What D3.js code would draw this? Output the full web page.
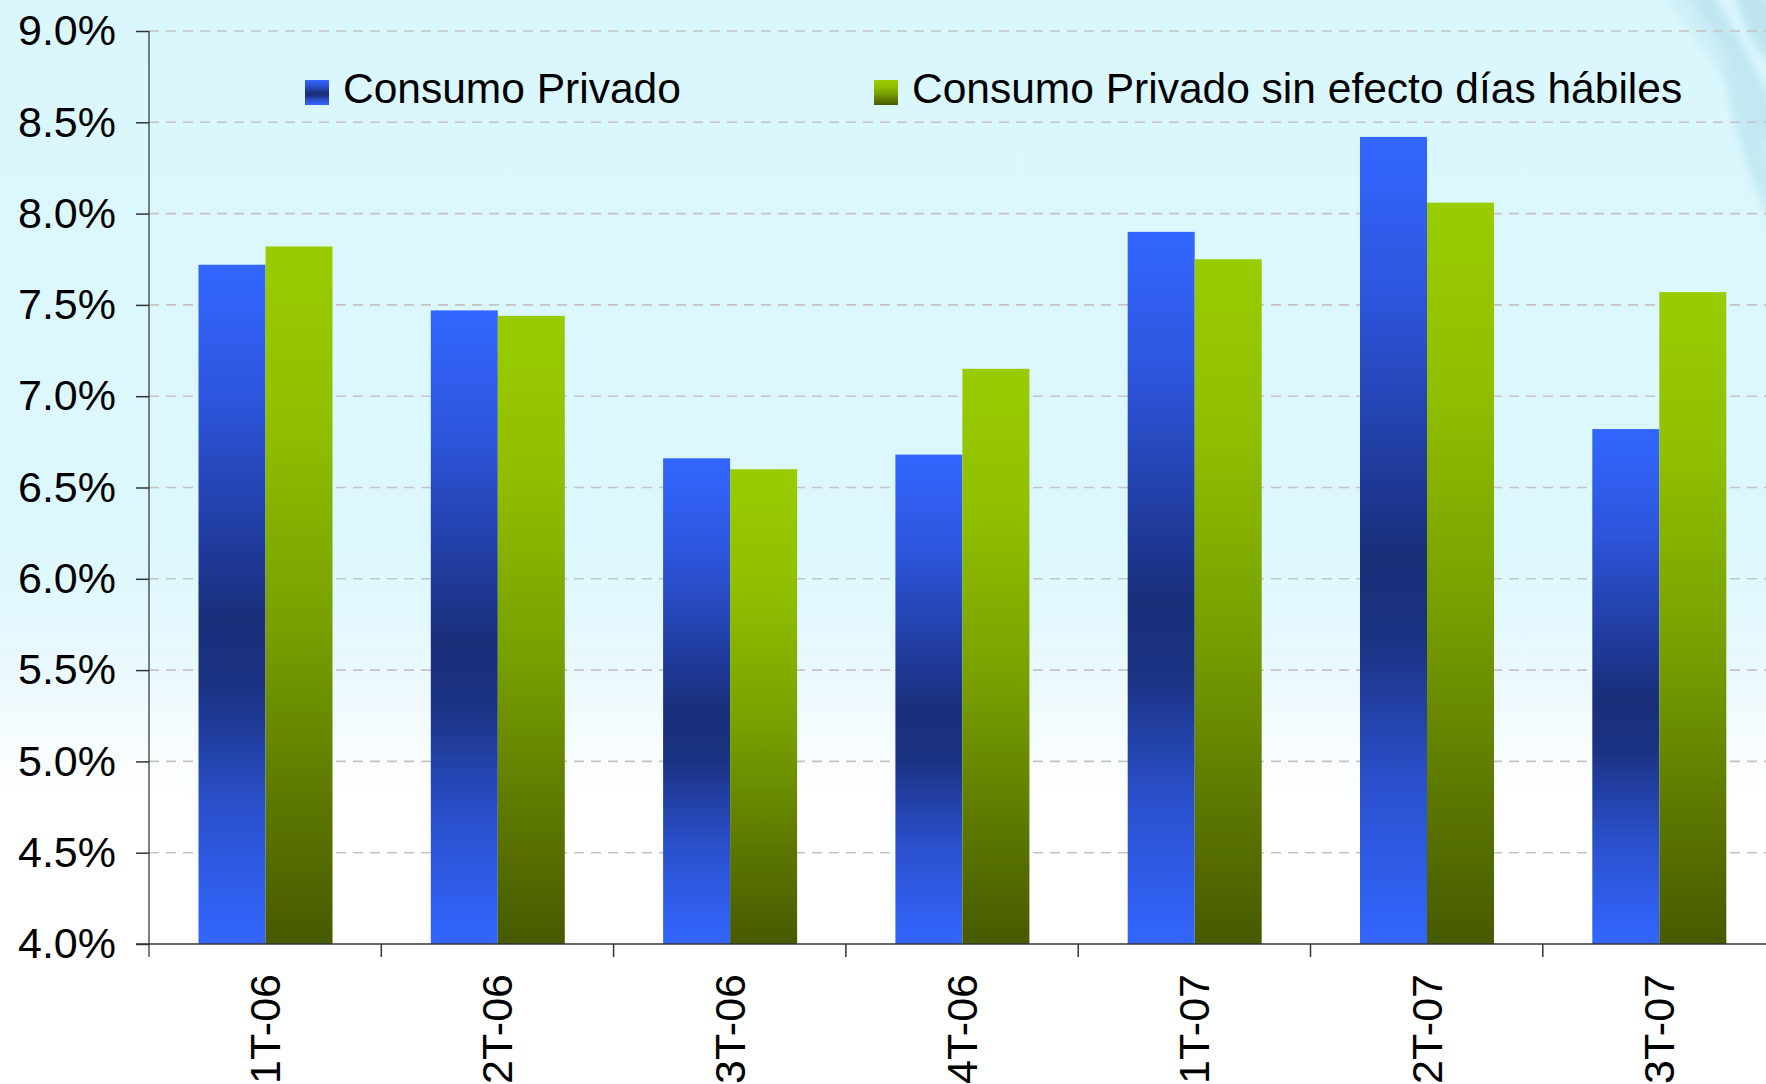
<!DOCTYPE html>
<html>
<head>
<meta charset="utf-8">
<script src="https://cdn.jsdelivr.net/npm/d3@7/dist/d3.min.js"></script>
<style>
  html, body { margin: 0; padding: 0; background: #ffffff; }
  svg { display: block; font-family: "Liberation Sans", Arial, sans-serif; }
</style>
</head>
<body>
<svg id="chart" width="1766" height="1084"></svg>
<script>
// ---- data ----
const categories = ["1T-06", "2T-06", "3T-06", "4T-06", "1T-07", "2T-07", "3T-07"];
const seriesNames = ["Consumo Privado", "Consumo Privado sin efecto días hábiles"];
const consumoPrivado = [7.72, 7.47, 6.66, 6.68, 7.90, 8.42, 6.82];
const consumoSinEfecto = [7.82, 7.44, 6.60, 7.15, 7.75, 8.06, 7.57];
const yTicks = [4.0, 4.5, 5.0, 5.5, 6.0, 6.5, 7.0, 7.5, 8.0, 8.5, 9.0];

const W = 1766, H = 1084;
const svg = d3.select("#chart");
const defs = svg.append("defs");

// background gradient
const bg = defs.append("linearGradient").attr("id", "bgGrad")
  .attr("x1", 0).attr("y1", 0).attr("x2", 0).attr("y2", 1);
[[0, "#dbf7fe"], [0.5, "#dcf8fe"], [0.58, "#e4f8fd"], [0.64, "#eef9fd"], [0.7, "#f9fdfe"], [0.74, "#ffffff"], [1, "#ffffff"]]
  .forEach(([o, c]) => bg.append("stop").attr("offset", o).attr("stop-color", c));
svg.append("rect").attr("width", W).attr("height", H).attr("fill", "url(#bgGrad)");

// faint wispy decoration top-right
const blur = defs.append("filter").attr("id", "blur").attr("x", "-50%").attr("y", "-50%").attr("width", "200%").attr("height", "200%");
blur.append("feGaussianBlur").attr("stdDeviation", 4);
const deco = svg.append("g").attr("filter", "url(#blur)").attr("opacity", 0.45);
const wisps = [
  [1735, 60, 14, 120, -28, "#9fd3e2"],
  [1710, 40, 10, 90, -32, "#b2dde9"],
  [1755, 150, 12, 90, -18, "#a8d8e5"],
  [1690, 20, 8, 60, -35, "#c2e5ee"],
  [1760, 20, 16, 50, -25, "#9ccfdf"]
];
deco.selectAll("ellipse").data(wisps).join("ellipse")
  .attr("cx", d => d[0]).attr("cy", d => d[1]).attr("rx", d => d[2]).attr("ry", d => d[3])
  .attr("fill", d => d[5]).attr("transform", d => `rotate(${d[4]},${d[0]},${d[1]})`);

// gradients for bars (per-bar, objectBoundingBox)
const gBlue = defs.append("linearGradient").attr("id", "gradBlue")
  .attr("x1", 0).attr("y1", 0).attr("x2", 0).attr("y2", 1);
[[0, "#3366ff"], [0.2, "#2d55dc"], [0.42, "#1f3a9a"], [0.52, "#1a2f7a"], [0.62, "#1b3282"], [0.8, "#2a50cc"], [1, "#3366ff"]]
  .forEach(([o, c]) => gBlue.append("stop").attr("offset", o).attr("stop-color", c));
const gGreen = defs.append("linearGradient").attr("id", "gradGreen")
  .attr("x1", 0).attr("y1", 0).attr("x2", 0).attr("y2", 1);
[[0, "#99cc00"], [0.25, "#90bf00"], [0.55, "#779f00"], [0.8, "#5c7700"], [1, "#475a00"]]
  .forEach(([o, c]) => gGreen.append("stop").attr("offset", o).attr("stop-color", c));
const fills = ["url(#gradBlue)", "url(#gradGreen)"];

// scales
const x0 = 149, bandW = 232.3;
const x = d3.scaleBand().domain(categories).range([x0, x0 + bandW * categories.length]).paddingInner(0).paddingOuter(0);
const xs = d3.scaleBand().domain(seriesNames).range([49.5, 49.5 + 134]).padding(0);
const y = d3.scaleLinear().domain([4, 9]).range([944, 31]);

// gridlines
svg.append("g").selectAll("line").data(yTicks.filter(t => t > 4)).join("line")
  .attr("x1", x0).attr("x2", W)
  .attr("y1", d => y(d)).attr("y2", d => y(d))
  .attr("stroke", "#c4c4c4").attr("stroke-width", 1.6).attr("stroke-dasharray", "10,7");

// bars
const data = categories.map((c, i) => ({ c, vals: [consumoPrivado[i], consumoSinEfecto[i]] }));
const groups = svg.append("g").selectAll("g").data(data).join("g")
  .attr("transform", d => `translate(${x(d.c)},0)`);
groups.selectAll("rect").data(d => d.vals.map((v, j) => ({ v, s: seriesNames[j], j }))).join("rect")
  .attr("x", d => xs(d.s))
  .attr("width", xs.bandwidth())
  .attr("y", d => y(d.v))
  .attr("height", d => y(4) - y(d.v))
  .attr("fill", d => fills[d.j]);

// y axis
const yAxis = d3.axisLeft(y).tickValues(yTicks).tickFormat(d => d3.format(".1f")(d) + "%").tickSize(13).tickPadding(20);
const gy = svg.append("g").attr("transform", `translate(${x0},0)`).call(yAxis);
gy.select(".domain").attr("stroke", "#555").attr("stroke-width", 1.5).attr("d", `M0,${y(9)}V${y(4) + 13}`);
gy.selectAll(".tick line").attr("stroke", "#333").attr("stroke-width", 1.5);
gy.selectAll(".tick text").attr("font-size", 43).attr("fill", "#000").attr("font-family", "Liberation Sans, Arial, sans-serif");

// x axis
const xAxisLine = svg.append("g");
xAxisLine.append("line").attr("x1", x0 - 13).attr("x2", W).attr("y1", y(4)).attr("y2", y(4))
  .attr("stroke", "#333").attr("stroke-width", 1.5);
const bounds = categories.map(c => x(c)).concat([x0 + bandW * categories.length]);
xAxisLine.selectAll("line.ct").data(bounds.slice(1)).join("line").attr("class", "ct")
  .attr("x1", d => d).attr("x2", d => d).attr("y1", y(4)).attr("y2", y(4) + 13)
  .attr("stroke", "#333").attr("stroke-width", 1.5);
svg.append("g").selectAll("text").data(categories).join("text")
  .attr("transform", d => `translate(${x(d) + x.bandwidth() / 2 + 15},${y(4) + 30}) rotate(-90)`)
  .attr("text-anchor", "end")
  .attr("font-size", 43)
  .attr("fill", "#000")
  .text(d => d);

// legend
const legendX = [305, 874];
const leg = svg.append("g").selectAll("g").data(seriesNames).join("g")
  .attr("transform", (d, i) => `translate(${legendX[i]},80)`);
leg.append("rect").attr("width", 24).attr("height", 25).attr("fill", (d, i) => fills[i]);
leg.append("text").attr("x", 38).attr("y", 23).attr("font-size", 42.5).attr("fill", "#000").text(d => d);
</script>
</body>
</html>
